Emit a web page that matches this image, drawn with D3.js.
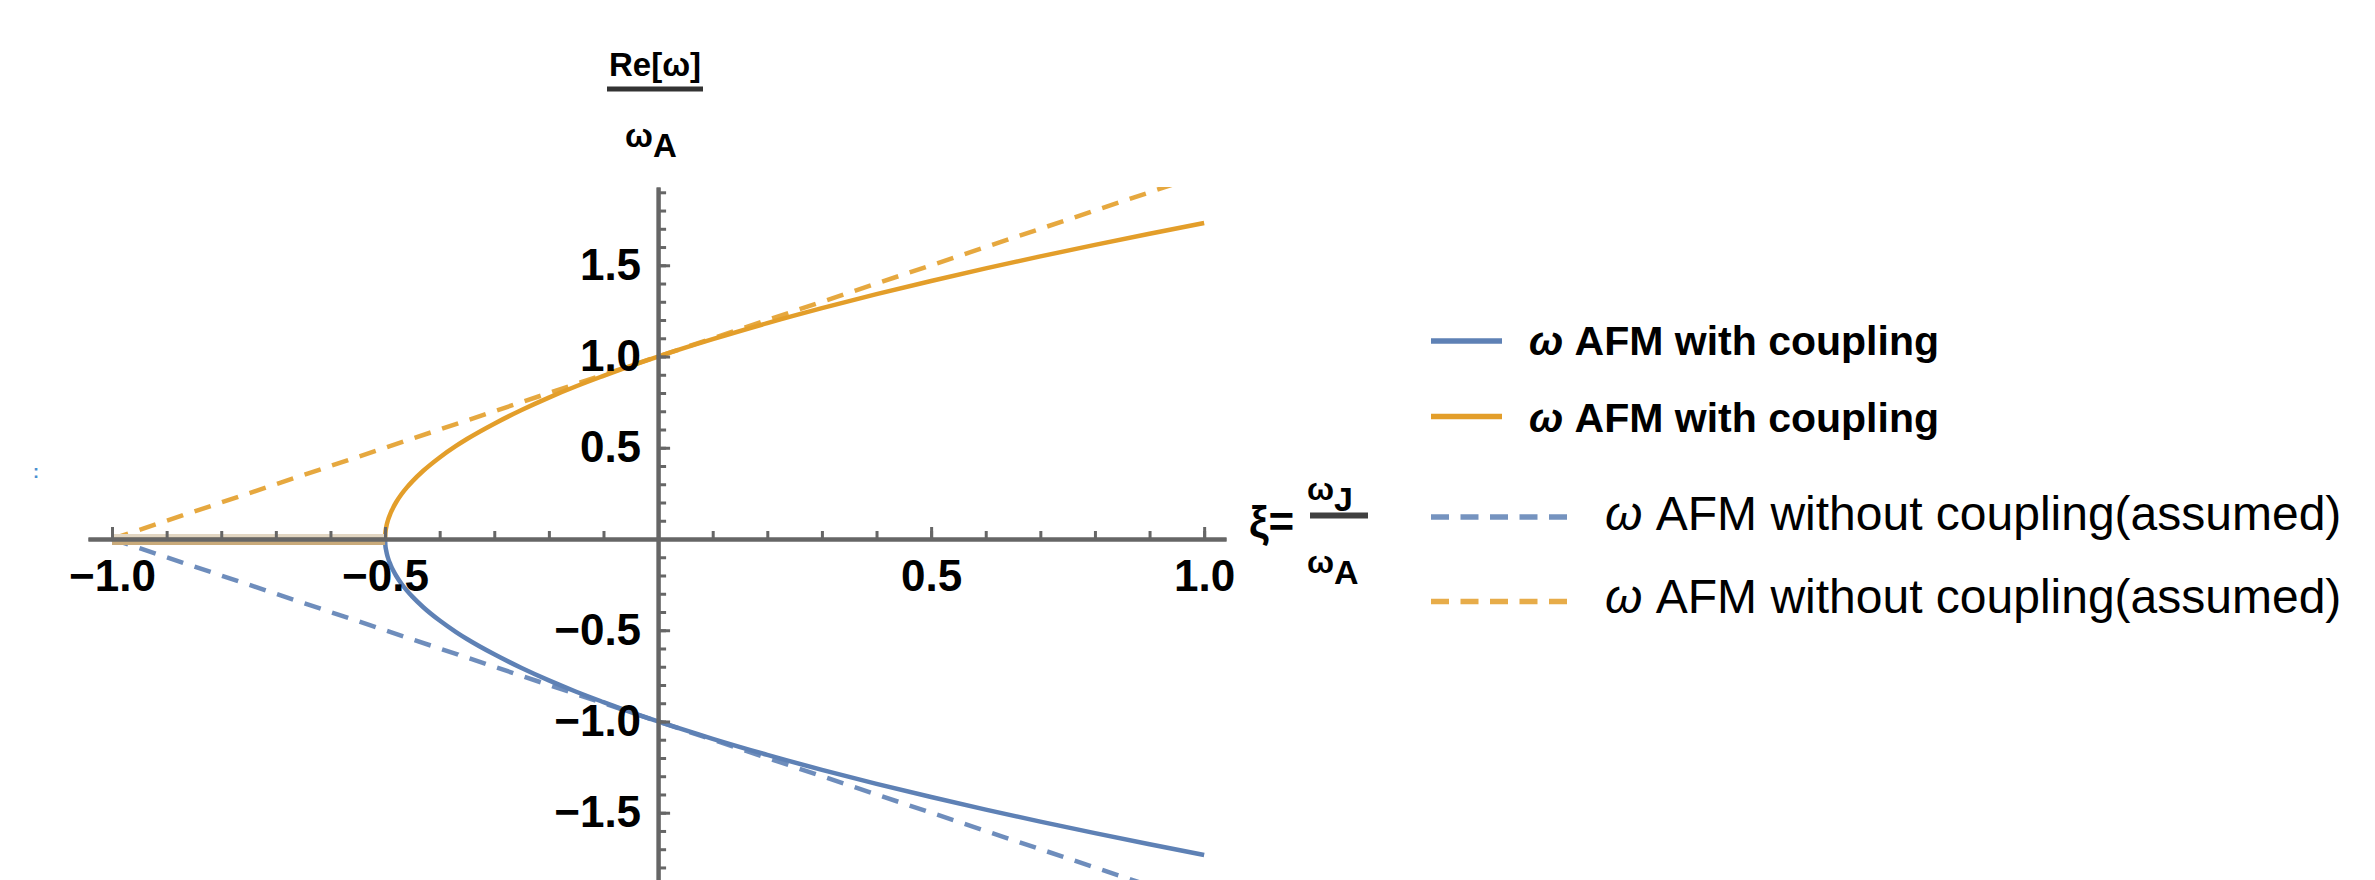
<!DOCTYPE html>
<html>
<head>
<meta charset="utf-8">
<script src="https://cdn.jsdelivr.net/npm/d3@7"></script>
<style>
  html, body { margin: 0; padding: 0; background: #fff; }
  svg { display: block; font-family: "Liberation Sans", Arial, sans-serif; }
</style>
</head>
<body>
<svg id="chart" width="2375" height="880"></svg>
<script>
// ---------- data ----------
const xiSolid = [-1.0, -0.9, -0.8, -0.7, -0.6, -0.5, -0.4995, -0.498, -0.495, -0.49, -0.485, -0.48, -0.47, -0.46, -0.45, -0.43, -0.4, -0.37, -0.35, -0.3, -0.25, -0.2, -0.15, -0.1, -0.05, 0.0, 0.1, 0.2, 0.3, 0.4, 0.5, 0.6, 0.7, 0.8, 0.9, 1.0];
const orangeSolid = [0, 0, 0, 0, 0, 0, 0.032, 0.063, 0.100, 0.141, 0.173, 0.200, 0.245, 0.283, 0.316, 0.374, 0.447, 0.510, 0.548, 0.632, 0.707, 0.775, 0.837, 0.894, 0.949, 1.000, 1.095, 1.183, 1.265, 1.342, 1.414, 1.483, 1.549, 1.612, 1.673, 1.732];
const blueSolid = [0, 0, 0, 0, 0, 0, -0.032, -0.063, -0.100, -0.141, -0.173, -0.200, -0.245, -0.283, -0.316, -0.374, -0.447, -0.510, -0.548, -0.632, -0.707, -0.775, -0.837, -0.894, -0.949, -1.000, -1.095, -1.183, -1.265, -1.342, -1.414, -1.483, -1.549, -1.612, -1.673, -1.732];

const xiDashed = [-1.0, 0.0, 1.0];
const orangeDashed = [0.0, 1.0, 2.0];
const blueDashed = [0.0, -1.0, -2.0];

const xTickLabels = [-1.0, -0.5, 0.5, 1.0];
const yTickLabels = [-1.5, -1.0, -0.5, 0.5, 1.0, 1.5];

const legendLabels = ["AFM with coupling", "AFM with coupling", "AFM without coupling(assumed)", "AFM without coupling(assumed)"];

// ---------- styles ----------
const BLUE = "#5E81B5", ORANGE = "#E39E2A", AXIS = "#666666";

const svg = d3.select("#chart");

const x = d3.scaleLinear().domain([-1.044, 1.040]).range([88, 1226]);
const y = d3.scaleLinear().domain([-1.929, 1.929]).range([891, 187]);

svg.append("defs").append("clipPath").attr("id", "plotclip")
  .append("rect").attr("x", x.range()[0]).attr("y", y.range()[1])
  .attr("width", x.range()[1] - x.range()[0]).attr("height", y.range()[0] - y.range()[1]);

const plot = svg.append("g").attr("clip-path", "url(#plotclip)");

const line = d3.line().x(d => x(d[0])).y(d => y(d[1])).curve(d3.curveMonotoneX);
const zip = (xs, ys) => xs.map((v, i) => [v, ys[i]]);

// dashed (without coupling)
plot.append("path").datum(zip(xiDashed, blueDashed)).attr("d", line)
  .attr("fill", "none").attr("stroke", BLUE).attr("stroke-width", 4.5).attr("stroke-dasharray", "17,12").attr("opacity", 0.9);
plot.append("path").datum(zip(xiDashed, orangeDashed)).attr("d", line)
  .attr("fill", "none").attr("stroke", ORANGE).attr("stroke-width", 4.5).attr("stroke-dasharray", "17,12").attr("opacity", 0.9);

// solid (with coupling)
plot.append("path").datum(zip(xiSolid, blueSolid)).attr("d", line)
  .attr("fill", "none").attr("stroke", BLUE).attr("stroke-width", 4.5);
plot.append("path").datum(zip(xiSolid, orangeSolid)).attr("d", line)
  .attr("fill", "none").attr("stroke", ORANGE).attr("stroke-width", 4.5);

// overlap of both branches (where they coincide) appears tan
const overlap = xiSolid.map((v, i) => [v, orangeSolid[i], blueSolid[i]]).filter(d => d[1] === d[2]).map(d => [d[0], d[1]]);
const lin = d3.line().x(d => x(d[0])).y(d => y(d[1]));
plot.append("path").datum(overlap).attr("d", lin)
  .attr("fill", "none").attr("stroke", "#C9AA7A").attr("stroke-width", 11)
  .attr("transform", "translate(0,0.5)");
plot.append("path").datum(overlap).attr("d", lin)
  .attr("fill", "none").attr("stroke", "#E2D6C2").attr("stroke-width", 3.5)
  .attr("transform", "translate(0,-3.2)");

// ---------- axes ----------
const fmt = d3.format(".1f");
function styleAxis(g) {
  g.select(".domain").attr("stroke", AXIS).attr("stroke-width", 4);
  g.selectAll(".tick line").attr("stroke", AXIS).attr("stroke-width", 3);
  g.selectAll(".tick text").attr("fill", "#000").attr("font-size", 44).attr("font-weight", "bold")
    .attr("font-family", "'Liberation Sans', Arial, sans-serif");
}

const xMinor = x.ticks(20);
const yMinor = y.ticks(40);

const gx = svg.append("g").attr("transform", `translate(0,${y(0)})`);
gx.append("g").call(d3.axisBottom(x).tickValues(xMinor).tickSizeInner(-8).tickSizeOuter(0).tickFormat("")).call(styleAxis);
gx.append("g").call(d3.axisBottom(x).tickValues(xTickLabels).tickSizeInner(-12).tickSizeOuter(0).tickPadding(21).tickFormat(fmt)).call(styleAxis);

const gy = svg.append("g").attr("transform", `translate(${x(0)},0)`);
gy.append("g").call(d3.axisLeft(y).tickValues(yMinor).tickSizeInner(-8).tickSizeOuter(0).tickFormat("")).call(styleAxis);
gy.append("g").call(d3.axisLeft(y).tickValues(yTickLabels).tickSizeInner(-12).tickSizeOuter(0).tickPadding(17).tickFormat(fmt)).call(styleAxis);

// ---------- axis labels ----------
// y label: Re[ω] / ω_A
svg.append("text").attr("x", 655).attr("y", 76).attr("text-anchor", "middle")
  .attr("font-size", 33).attr("font-weight", "bold").text("Re[ω]");
svg.append("line").attr("x1", 607).attr("x2", 703).attr("y1", 89).attr("y2", 89)
  .attr("stroke", "#333").attr("stroke-width", 5);
const yden = svg.append("text").attr("x", 625).attr("y", 147).attr("font-weight", "bold");
yden.append("tspan").attr("font-size", 33).text("ω");
yden.append("tspan").attr("font-size", 33).attr("dy", 10).text("A");

// x label: ξ = ω_J / ω_A
svg.append("text").attr("x", 1249).attr("y", 537).attr("font-size", 44).attr("font-weight", "bold").text("ξ=");
const xnum = svg.append("text").attr("x", 1307).attr("y", 500).attr("font-weight", "bold");
xnum.append("tspan").attr("font-size", 32).text("ω");
xnum.append("tspan").attr("font-size", 34).attr("dy", 11).text("J");
svg.append("line").attr("x1", 1310).attr("x2", 1368).attr("y1", 515.5).attr("y2", 515.5)
  .attr("stroke", "#404040").attr("stroke-width", 6);
const xden = svg.append("text").attr("x", 1307).attr("y", 573).attr("font-weight", "bold");
xden.append("tspan").attr("font-size", 32).text("ω");
xden.append("tspan").attr("font-size", 34).attr("dy", 11).text("A");

// small stray mark at the left edge
svg.append("text").attr("x", 33).attr("y", 478).attr("font-size", 18).attr("font-weight", "bold")
  .attr("fill", "#4A8FD0").text(":");

// ---------- legend ----------
const legendColors = [BLUE, ORANGE, BLUE, ORANGE];
const legendDashed = [false, false, true, true];
const legendLineY = [341, 416.5, 517, 601.5];
const legendTextY = [355, 432, 530, 613];

const leg = svg.append("g");
legendLabels.forEach((lab, i) => {
  const dashed = legendDashed[i];
  leg.append("line")
    .attr("x1", 1431).attr("x2", dashed ? 1569 : 1502)
    .attr("y1", legendLineY[i]).attr("y2", legendLineY[i])
    .attr("stroke", legendColors[i]).attr("stroke-width", 5.5)
    .attr("stroke-dasharray", dashed ? "18,11.5" : null)
    .attr("opacity", dashed ? 0.85 : 1);
  const t = leg.append("text")
    .attr("x", dashed ? 1605 : 1529).attr("y", legendTextY[i])
    .attr("font-size", dashed ? 48 : 41)
    .attr("font-weight", dashed ? "normal" : "bold")
    .attr("fill", "#000");
  t.append("tspan").attr("font-style", "italic").text("ω");
  t.append("tspan").text(" " + lab);
});
</script>
</body>
</html>
